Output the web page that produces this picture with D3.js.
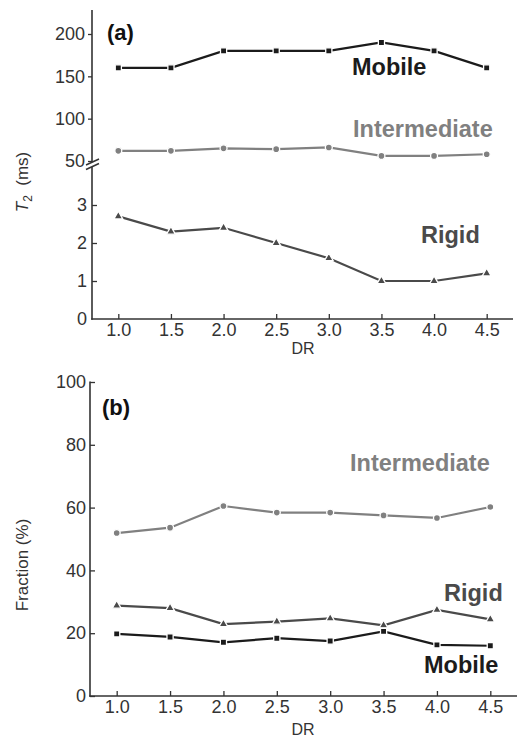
<!DOCTYPE html>
<html>
<head>
<meta charset="utf-8">
<script src="https://cdn.jsdelivr.net/npm/d3@7"></script>
<style>
  body { margin: 0; background: #fff; }
  svg text { font-family: "Liberation Sans", Arial, sans-serif; }
</style>
</head>
<body>
<div id="chart"></div>
<script>
// x values (DR)
var drValues = [1.0, 1.5, 2.0, 2.5, 3.0, 3.5, 4.0, 4.5];

// (a) T2 in ms
var t2Mobile = [160, 160, 180, 180, 180, 190, 180, 160];
var t2Intermediate = [62, 62, 65, 64, 66, 56, 56, 58];
var t2Rigid = [2.7, 2.3, 2.4, 2.0, 1.6, 1.0, 1.0, 1.2];

// (b) fraction in %
var fracMobile = [19.8, 18.8, 17.1, 18.4, 17.5, 20.6, 16.3, 16.0];
var fracIntermediate = [51.9, 53.6, 60.5, 58.4, 58.4, 57.5, 56.7, 60.2];
var fracRigid = [28.8, 28.0, 22.9, 23.7, 24.7, 22.5, 27.4, 24.4];

var upperTicks = [50, 100, 150, 200];
var lowerTicks = [0, 1, 2, 3];
var fracTicks = [0, 20, 40, 60, 80, 100];

var colMobile = "#1b1b1b", colInter = "#808080", colRigid = "#4a4a4a";
var axisCol = "#333";

var svg = d3.select("#chart").append("svg")
    .attr("width", 518).attr("height", 737);

function zip(xs, ys) { return xs.map(function(x, i) { return [x, ys[i]]; }); }

// draws a series line + markers
function drawSeries(g, x, y, xs, ys, color, shape) {
    var pts = zip(xs, ys);
    var line = d3.line().x(function(d) { return x(d[0]); }).y(function(d) { return y(d[1]); });
    g.append("path").datum(pts)
        .attr("d", line).attr("fill", "none")
        .attr("stroke", color).attr("stroke-width", 2.2);
    var sym = shape === "square" ? d3.symbol().type(d3.symbolSquare).size(38)
            : shape === "circle" ? d3.symbol().type(d3.symbolCircle).size(38)
            : d3.symbol().type(d3.symbolTriangle).size(34);
    g.selectAll(null).data(pts).enter().append("path")
        .attr("d", sym)
        .attr("transform", function(d) { return "translate(" + x(d[0]) + "," + y(d[1]) + ")"; })
        .attr("fill", color).attr("stroke", "#fff").attr("stroke-width", 1.3);
}

function styleAxis(g) {
    g.select(".domain").remove();
    g.selectAll(".tick line").attr("stroke", axisCol).attr("stroke-width", 1.3);
    g.selectAll(".tick text").attr("fill", axisCol).style("font-size", "18px");
}

function label(txt, x, y, color, size, bold) {
    return svg.append("text").attr("x", x).attr("y", y)
        .attr("fill", color).style("font-size", size + "px")
        .style("font-weight", bold ? "bold" : "normal").text(txt);
}

/* ---------- panel (a) ---------- */
var xA = d3.scaleLinear().domain([0.75, 4.75]).range([92, 513]);
var yUp = d3.scaleLinear().domain([50, 200]).range([161, 34]);
var yLow = d3.scaleLinear().domain([0, 3]).range([319, 205]);

svg.append("g").attr("transform", "translate(92,0)")
    .call(d3.axisLeft(yUp).tickValues(upperTicks).tickSize(4).tickSizeOuter(0).tickPadding(3))
    .call(styleAxis);
svg.append("g").attr("transform", "translate(92,0)")
    .call(d3.axisLeft(yLow).tickValues(lowerTicks.slice(1)).tickFormat(d3.format("d"))
        .tickSize(-5).tickSizeOuter(0).tickPadding(5))
    .call(styleAxis);
svg.append("g").attr("transform", "translate(0,319)")
    .call(d3.axisBottom(xA).tickValues(drValues).tickFormat(d3.format(".1f")).tickSize(-5).tickSizeOuter(0).tickPadding(4))
    .call(styleAxis);
svg.append("text").attr("x", 87).attr("y", yLow(0)).attr("dy", "0.32em")
    .attr("text-anchor", "end").attr("fill", axisCol).style("font-size", "18px").text("0");

// axis lines with break
svg.append("line").attr("x1", 92).attr("x2", 92).attr("y1", 10).attr("y2", 162)
    .attr("stroke", axisCol).attr("stroke-width", 1.6);
svg.append("line").attr("x1", 92).attr("x2", 92).attr("y1", 167).attr("y2", 319.7)
    .attr("stroke", axisCol).attr("stroke-width", 1.6);
svg.append("line").attr("x1", 91.2).attr("x2", 513).attr("y1", 319).attr("y2", 319)
    .attr("stroke", axisCol).attr("stroke-width", 1.6);
[0, 4.5].forEach(function(off) {
    svg.append("line").attr("x1", 86).attr("y1", 165 + off).attr("x2", 99).attr("y2", 159 + off)
        .attr("stroke", axisCol).attr("stroke-width", 1.6);
});

var gA = svg.append("g");
drawSeries(gA, xA, yUp, drValues, t2Mobile, colMobile, "square");
drawSeries(gA, xA, yUp, drValues, t2Intermediate, colInter, "circle");
drawSeries(gA, xA, yLow, drValues, t2Rigid, colRigid, "triangle");

label("(a)", 107, 40, "#111", 22, true);
label("Mobile", 352, 75, colMobile, 23.5, true);
label("Intermediate", 353, 137, colInter, 23.5, true);
label("Rigid", 421, 243, colRigid, 23.5, true);

var tLab = svg.append("text").attr("transform", "translate(28,182) rotate(-90)")
    .attr("text-anchor", "middle").attr("fill", axisCol).style("font-size", "17px");
tLab.append("tspan").style("font-style", "italic").text("T");
tLab.append("tspan").attr("dy", 4).style("font-size", "12px").text("2");
tLab.append("tspan").attr("dy", -4).text("\u00a0\u00a0(ms)");

label("DR", 303, 354, axisCol, 16, false).attr("text-anchor", "middle");

/* ---------- panel (b) ---------- */
var xB = d3.scaleLinear().domain([0.75, 4.75]).range([90, 517]);
var yB = d3.scaleLinear().domain([0, 100]).range([696, 382]);

svg.append("g").attr("transform", "translate(90,0)")
    .call(d3.axisLeft(yB).tickValues(fracTicks).tickSize(-5).tickSizeOuter(0).tickPadding(4))
    .call(styleAxis);
svg.append("g").attr("transform", "translate(0,696)")
    .call(d3.axisBottom(xB).tickValues(drValues).tickFormat(d3.format(".1f")).tickSize(-5).tickSizeOuter(0).tickPadding(4))
    .call(styleAxis);
svg.append("line").attr("x1", 90).attr("x2", 90).attr("y1", 381.5).attr("y2", 696.7)
    .attr("stroke", axisCol).attr("stroke-width", 1.6);
svg.append("line").attr("x1", 89.2).attr("x2", 517).attr("y1", 696).attr("y2", 696)
    .attr("stroke", axisCol).attr("stroke-width", 1.6);

var gB = svg.append("g");
drawSeries(gB, xB, yB, drValues, fracIntermediate, colInter, "circle");
drawSeries(gB, xB, yB, drValues, fracRigid, colRigid, "triangle");
drawSeries(gB, xB, yB, drValues, fracMobile, colMobile, "square");

label("(b)", 102, 415, "#111", 22, true);
label("Intermediate", 350, 471, colInter, 23.5, true);
label("Rigid", 444, 601, colRigid, 23.5, true);
label("Mobile", 424, 673, colMobile, 23.5, true);

svg.append("text").attr("transform", "translate(28,565) rotate(-90)")
    .attr("text-anchor", "middle").attr("fill", axisCol).style("font-size", "17px")
    .text("Fraction (%)");
label("DR", 303, 735, axisCol, 16, false).attr("text-anchor", "middle");
</script>
</body>
</html>
